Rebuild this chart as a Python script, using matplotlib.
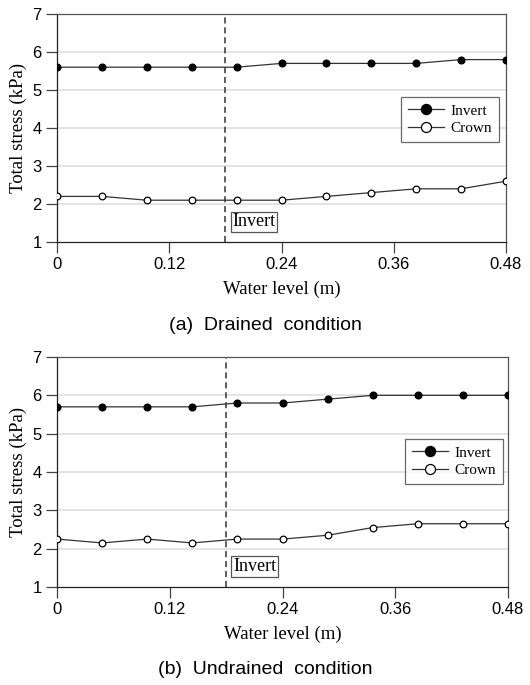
import matplotlib
matplotlib.use("Agg")
import matplotlib.pyplot as plt

# water level (m)
water_level = [0, 0.048, 0.096, 0.144, 0.192, 0.24, 0.288, 0.336, 0.384, 0.432, 0.48]

# (a) drained
drained_invert = [5.6, 5.6, 5.6, 5.6, 5.6, 5.7, 5.7, 5.7, 5.7, 5.8, 5.8]
drained_crown = [2.2, 2.2, 2.1, 2.1, 2.1, 2.1, 2.2, 2.3, 2.4, 2.4, 2.6]

# (b) undrained
undrained_invert = [5.7, 5.7, 5.7, 5.7, 5.8, 5.8, 5.9, 6.0, 6.0, 6.0, 6.0]
undrained_crown = [2.25, 2.15, 2.25, 2.15, 2.25, 2.25, 2.35, 2.55, 2.65, 2.65, 2.65]

invert_level = 0.18
xticks = [0, 0.12, 0.24, 0.36, 0.48]
xtick_labels = ["0", "0.12", "0.24", "0.36", "0.48"]
yticks = [1, 2, 3, 4, 5, 6, 7]
captions = ["(a)  Drained  condition", "(b)  Undrained  condition"]

SERIF = "Liberation Serif"
SANS = "Liberation Sans"

fig = plt.figure(figsize=(5.3, 6.85), dpi=100)
W, H = 530, 685

# axes boxes in pixels: left, top, right, bottom
boxes = [(57, 14, 506, 242), (57, 357, 508, 587)]
caption_y = [325, 670]
legend_anchor = [(0.984, 0.636), (0.989, 0.643)]
panels = [(drained_invert, drained_crown), (undrained_invert, undrained_crown)]

for (l, t, r, b), (inv, crn), cap, cy, anc in zip(boxes, panels, captions,
                                                   caption_y, legend_anchor):
    ax = fig.add_axes([l / W, 1 - b / H, (r - l) / W, (b - t) / H])
    ax.set_xlim(0, 0.48)
    ax.set_ylim(1, 7)
    for y in yticks[1:]:
        ax.axhline(y, color="#e2e2e2", lw=1.3, zorder=0)
    ax.plot(water_level, inv, "-o", color="#333333", lw=0.9, ms=4.8,
            mfc="black", mec="black", label="Invert", zorder=3)
    ax.plot(water_level, crn, "-o", color="#333333", lw=0.9, ms=4.8,
            mfc="white", mec="black", mew=0.9, label="Crown", zorder=3)
    ax.axvline(invert_level, color="#333333", lw=1.1, ls=(0, (4, 2.5)), zorder=2)
    ax.text(invert_level + 0.0075, 1.53, "Invert", family=SERIF, fontsize=13,
            ha="left", va="center",
            bbox=dict(boxstyle="square,pad=0.1", fc="white", ec="#555555", lw=0.9))

    ax.set_xticks(xticks)
    ax.set_xticklabels(xtick_labels, family=SANS, fontsize=12)
    ax.set_yticks(yticks)
    ax.set_yticklabels([str(v) for v in yticks], family=SANS, fontsize=12)
    ax.tick_params(direction="out", length=8, width=0.9, color="#444444", pad=3)
    for s in ax.spines.values():
        s.set_color("#555555")
        s.set_linewidth(0.9)
    ax.spines["left"].set_color("#222222")
    ax.spines["bottom"].set_color("#222222")

    ax.set_xlabel("Water level (m)", family=SERIF, fontsize=13.5, labelpad=6)
    ax.set_ylabel("Total stress (kPa)", family=SERIF, fontsize=13.5, labelpad=4)

    leg = ax.legend(loc="upper right", bbox_to_anchor=anc,
                    prop={"family": SERIF, "size": 11}, frameon=True,
                    fancybox=False, edgecolor="#444444", handlelength=2.4,
                    handletextpad=0.4, borderpad=0.45, labelspacing=0.25,
                    borderaxespad=0, markerscale=1.5)
    leg.get_frame().set_linewidth(0.9)

    fig.text(0.5, 1 - cy / H, cap, family=SANS, fontsize=14,
             ha="center", va="center")

fig.savefig("out.png", dpi=100)
